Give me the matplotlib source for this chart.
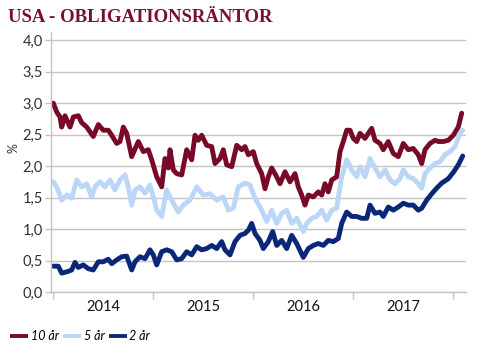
import matplotlib
matplotlib.use("Agg")
import matplotlib.pyplot as plt

# ---------------- data ----------------
t10 = [2014.003, 2014.037, 2014.070, 2014.087, 2014.120, 2014.170, 2014.203, 2014.253, 2014.287, 2014.337,
       2014.403, 2014.453, 2014.503, 2014.553, 2014.587, 2014.637, 2014.670, 2014.703, 2014.737, 2014.787,
       2014.853, 2014.903, 2014.953, 2014.987, 2015.037, 2015.087, 2015.120, 2015.153, 2015.170, 2015.203,
       2015.237, 2015.287, 2015.337, 2015.387, 2015.420, 2015.453, 2015.487, 2015.537, 2015.587, 2015.620,
       2015.670, 2015.703, 2015.737, 2015.787, 2015.837, 2015.887, 2015.920, 2015.953, 2016.003, 2016.037,
       2016.087, 2016.120, 2016.153, 2016.187, 2016.237, 2016.270, 2016.320, 2016.370, 2016.420, 2016.453,
       2016.487, 2016.520, 2016.553, 2016.603, 2016.653, 2016.687, 2016.720, 2016.753, 2016.787, 2016.837,
       2016.870, 2016.903, 2016.937, 2016.970, 2017.003, 2017.037, 2017.070, 2017.120, 2017.153, 2017.187,
       2017.220, 2017.270, 2017.303, 2017.353, 2017.403, 2017.453, 2017.503, 2017.553, 2017.603, 2017.653,
       2017.687, 2017.720, 2017.770, 2017.820, 2017.853, 2017.903, 2017.953, 2018.003, 2018.053, 2018.087]
y10 = [3.00, 2.86, 2.78, 2.62, 2.80, 2.62, 2.78, 2.80, 2.69, 2.62,
       2.47, 2.66, 2.57, 2.57, 2.49, 2.36, 2.39, 2.62, 2.52, 2.15,
       2.39, 2.23, 2.26, 2.10, 1.83, 1.67, 2.12, 1.97, 2.26, 1.94,
       1.88, 1.86, 2.26, 2.10, 2.49, 2.41, 2.49, 2.33, 2.31, 2.04,
       2.12, 2.26, 2.02, 1.99, 2.33, 2.26, 2.31, 2.18, 2.23, 2.04,
       1.88, 1.64, 1.83, 1.97, 1.83, 1.72, 1.91, 1.75, 1.88, 1.67,
       1.54, 1.38, 1.54, 1.51, 1.59, 1.54, 1.72, 1.59, 1.78, 1.83,
       2.23, 2.39, 2.57, 2.57, 2.44, 2.39, 2.52, 2.44, 2.52, 2.60,
       2.41, 2.36, 2.26, 2.39, 2.20, 2.15, 2.36, 2.26, 2.28, 2.18,
       2.04, 2.26, 2.36, 2.41, 2.39, 2.39, 2.41, 2.49, 2.62, 2.84]

t5 = [2014.003, 2014.037, 2014.087, 2014.137, 2014.187, 2014.237, 2014.287, 2014.337, 2014.387, 2014.420,
      2014.470, 2014.520, 2014.570, 2014.620, 2014.670, 2014.720, 2014.753, 2014.787, 2014.820, 2014.870,
      2014.920, 2014.970, 2015.020, 2015.037, 2015.087, 2015.137, 2015.187, 2015.253, 2015.303, 2015.370,
      2015.437, 2015.503, 2015.570, 2015.637, 2015.703, 2015.753, 2015.803, 2015.853, 2015.920, 2015.970,
      2016.020, 2016.087, 2016.137, 2016.187, 2016.237, 2016.287, 2016.337, 2016.387, 2016.437, 2016.503,
      2016.537, 2016.587, 2016.637, 2016.687, 2016.737, 2016.787, 2016.837, 2016.870, 2016.887, 2016.937,
      2016.987, 2017.037, 2017.070, 2017.120, 2017.170, 2017.220, 2017.270, 2017.320, 2017.370, 2017.420,
      2017.470, 2017.503, 2017.553, 2017.603, 2017.653, 2017.687, 2017.720, 2017.770, 2017.820, 2017.870,
      2017.920, 2017.970, 2018.020, 2018.070, 2018.097]
y5 = [1.75, 1.67, 1.46, 1.54, 1.49, 1.78, 1.67, 1.72, 1.51, 1.67,
      1.75, 1.67, 1.78, 1.62, 1.78, 1.86, 1.67, 1.38, 1.62, 1.67,
      1.57, 1.70, 1.41, 1.30, 1.20, 1.62, 1.46, 1.27, 1.38, 1.46,
      1.67, 1.54, 1.56, 1.46, 1.51, 1.30, 1.33, 1.67, 1.73, 1.70,
      1.49, 1.30, 1.12, 1.30, 1.09, 1.25, 1.30, 1.09, 1.17, 0.96,
      1.09, 1.17, 1.20, 1.30, 1.14, 1.30, 1.33, 1.67, 1.83, 2.10,
      1.94, 1.83, 1.99, 1.83, 2.12, 1.97, 1.83, 1.94, 1.78, 1.72,
      1.80, 1.94, 1.83, 1.80, 1.72, 1.65, 1.88, 1.97, 2.04, 2.07,
      2.18, 2.23, 2.31, 2.52, 2.57]

t2 = [2014.003, 2014.053, 2014.087, 2014.137, 2014.187, 2014.220, 2014.253, 2014.303, 2014.353, 2014.403,
      2014.453, 2014.503, 2014.553, 2014.587, 2014.637, 2014.687, 2014.737, 2014.787, 2014.820, 2014.870,
      2014.920, 2014.970, 2015.003, 2015.037, 2015.087, 2015.137, 2015.187, 2015.237, 2015.287, 2015.337,
      2015.387, 2015.437, 2015.487, 2015.537, 2015.587, 2015.637, 2015.687, 2015.720, 2015.770, 2015.820,
      2015.870, 2015.920, 2015.953, 2015.987, 2016.020, 2016.070, 2016.103, 2016.153, 2016.197, 2016.237,
      2016.287, 2016.337, 2016.387, 2016.437, 2016.503, 2016.553, 2016.603, 2016.653, 2016.703, 2016.753,
      2016.803, 2016.853, 2016.887, 2016.937, 2016.987, 2017.037, 2017.087, 2017.137, 2017.170, 2017.220,
      2017.270, 2017.303, 2017.353, 2017.403, 2017.453, 2017.503, 2017.553, 2017.603, 2017.653, 2017.687,
      2017.737, 2017.787, 2017.837, 2017.887, 2017.953, 2018.003, 2018.053, 2018.097]
y2 = [0.41, 0.41, 0.30, 0.32, 0.35, 0.47, 0.39, 0.43, 0.37, 0.35,
      0.48, 0.48, 0.52, 0.45, 0.51, 0.56, 0.57, 0.35, 0.48, 0.56,
      0.53, 0.67, 0.59, 0.43, 0.64, 0.67, 0.64, 0.51, 0.53, 0.64,
      0.59, 0.72, 0.67, 0.69, 0.74, 0.69, 0.80, 0.67, 0.59, 0.80,
      0.90, 0.93, 0.98, 1.09, 0.93, 0.82, 0.69, 0.80, 0.96, 0.74,
      0.82, 0.69, 0.90, 0.77, 0.55, 0.69, 0.74, 0.77, 0.74, 0.82,
      0.80, 0.85, 1.09, 1.27, 1.20, 1.20, 1.17, 1.17, 1.38, 1.25,
      1.27, 1.20, 1.35, 1.30, 1.35, 1.41, 1.38, 1.38, 1.30, 1.33,
      1.46, 1.56, 1.65, 1.73, 1.80, 1.90, 2.02, 2.16]

years = ["2014", "2015", "2016", "2017"]
year_starts = [2014, 2015, 2016, 2017, 2018]
yticks = [0.0, 0.5, 1.0, 1.5, 2.0, 2.5, 3.0, 3.5, 4.0]
series_names = ["10 år", "5 år", "2 år"]
title = "USA - OBLIGATIONSRÄNTOR"

# ---------------- style ----------------
c10 = "#780A28"
c5 = "#BCD6F8"
c2 = "#0B2878"
grid_c = "#C4C4C4"
sans = ["Lato", "DejaVu Sans"]

W, H = 488, 358
fig = plt.figure(figsize=(W / 100, H / 100), dpi=100)
ax = fig.add_axes([51 / W, (H - 292) / H, (466 - 51) / W, (292 - 32) / H])

lw = 3.5
ax.plot(t10, y10, color=c10, lw=lw, solid_capstyle="round", solid_joinstyle="round", label=series_names[0])
ax.plot(t5, y5, color=c5, lw=lw, solid_capstyle="round", solid_joinstyle="round", label=series_names[1])
ax.plot(t2, y2, color=c2, lw=lw, solid_capstyle="round", solid_joinstyle="round", label=series_names[2])

ax.set_xlim(2013.98, 2018.13)
ax.set_ylim(0, 4.13)

ax.set_yticks(yticks)
ax.set_yticklabels([f"{v:.1f}".replace(".", ",") for v in yticks], fontfamily=sans, fontsize=10.5, color="#303030")
ax.yaxis.grid(True, color=grid_c, lw=1.0)
ax.set_axisbelow(True)
ax.tick_params(axis="y", length=4, width=1, color=grid_c, pad=2)

ax.set_xticks(year_starts)
ax.set_xticklabels([])
ax.set_xticks([y + 0.5 for y in year_starts[:-1]], minor=True)
ax.set_xticklabels(years, minor=True, fontfamily=sans, fontsize=10.5, color="#111111")
ax.tick_params(axis="x", which="major", length=5, width=1, color=grid_c)
ax.tick_params(axis="x", which="minor", length=0, pad=6)

for s in ["top", "right"]:
    ax.spines[s].set_visible(False)
for s in ["left", "bottom"]:
    ax.spines[s].set_color(grid_c)
    ax.spines[s].set_linewidth(1.0)

ax.set_ylabel("%", fontfamily=sans, fontsize=9, color="#303030")
ax.yaxis.set_label_coords((19 - 51) / 415, (292 - 148) / 260)

fig.text(8 / W, 1 - 18 / H, title, fontfamily="Liberation Serif", fontweight="bold",
         fontsize=13.5, color="#7A1030", va="center", ha="left")

leg = fig.legend(loc="center left", bbox_to_anchor=(10 / W, 1 - 336 / H), ncol=3, frameon=False,
                 prop={"family": sans, "style": "italic", "size": 9},
                 handlelength=1.45, handletextpad=0.2, columnspacing=0.35, borderaxespad=0,
                 borderpad=0)
for h in leg.get_lines():
    h.set_linewidth(2.8)
    h.set_solid_capstyle("butt")

fig.savefig("out.png", dpi=100)
